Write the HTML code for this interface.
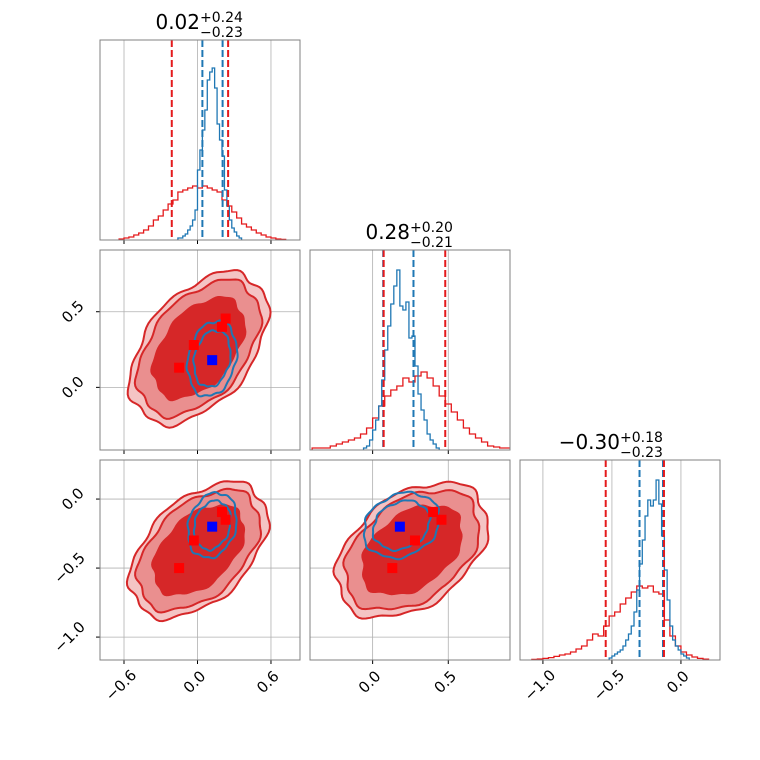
<!DOCTYPE html>
<html><head><meta charset="utf-8"><style>
html,body{margin:0;padding:0;background:#fff}
svg{display:block;font-family:"DejaVu Sans","Liberation Sans",sans-serif}
</style></head><body>
<svg id="c" width="760" height="760" viewBox="0 0 760 760" xmlns="http://www.w3.org/2000/svg"></svg>
<script>
// ---- data ----
const paramRanges = [[-0.796,0.837],[-0.414,0.908],[-1.166,0.283]];
const ticks = [[-0.6,0.0,0.6],[0.0,0.5],[-1.0,-0.5,0.0]];
const tickLabels = [["\u22120.6","0.0","0.6"],["0.0","0.5"],["\u22121.0","\u22120.5","0.0"]];
const titleMain = ["0.02","0.28","\u22120.30"];
const titleUp = ["+0.24","+0.20","+0.18"];
const titleDown = ["\u22120.23","\u22120.21","\u22120.23"];
const blueStart = [-0.16,-0.06,-0.52];
const blueStep = [0.02,0.02,0.02];
const blueHist0 = [0.01,0.01,0.02,0.03,0.05,0.07,0.1,0.15,0.35,0.45,0.55,0.65,0.8,0.84,0.86,0.76,0.58,0.5,0.42,0.25,0.17,0.1,0.06,0.04,0.02,0.01];
const blueHist1 = [0.01,0.02,0.05,0.1,0.15,0.22,0.35,0.5,0.62,0.73,0.82,0.9,0.72,0.7,0.74,0.56,0.57,0.42,0.28,0.2,0.15,0.08,0.05,0.03,0.01];
const blueHist2 = [0.01,0.02,0.03,0.04,0.05,0.07,0.1,0.13,0.17,0.24,0.35,0.48,0.6,0.72,0.8,0.77,0.8,0.9,0.78,0.62,0.45,0.3,0.17,0.1,0.07,0.05,0.03,0.02,0.01];
const redStart = [-0.64,-0.40,-1.08];
const redStep = [0.04,0.04,0.04];
const redHist0 = [0.005,0.01,0.015,0.025,0.035,0.05,0.07,0.1,0.12,0.15,0.18,0.2,0.24,0.25,0.26,0.27,0.26,0.27,0.26,0.25,0.24,0.2,0.17,0.14,0.11,0.08,0.065,0.05,0.035,0.025,0.015,0.01,0.005,0.003];
const redHist1 = [0.01,0.01,0.01,0.02,0.03,0.04,0.05,0.06,0.08,0.11,0.16,0.22,0.27,0.3,0.32,0.36,0.34,0.37,0.39,0.36,0.32,0.27,0.23,0.19,0.15,0.11,0.08,0.06,0.04,0.02,0.015,0.01,0.01];
const redHist2 = [0.003,0.005,0.008,0.012,0.018,0.025,0.03,0.04,0.055,0.07,0.1,0.13,0.12,0.17,0.22,0.24,0.28,0.31,0.34,0.37,0.36,0.37,0.34,0.33,0.2,0.12,0.07,0.04,0.025,0.015,0.008,0.004];
const redQuant = [[-0.21,0.25],[0.073,0.48],[-0.545,-0.123]];
const blueQuant = [[0.04,0.205],[0.07,0.27],[-0.30,-0.13]];
const redMean = [0.01,0.26,-0.37];
const redSigma = [0.28,0.25,0.245];
const redRho = [[1,0.45,0.45],[0.45,1,0.4],[0.45,0.4,1]];
const blueMean = [0.12,0.19,-0.19];
const blueSigma = [0.1,0.125,0.118];
const blueRho = [[1,0.2,0.2],[0.2,1,0.2],[0.2,0.2,1]];
const redLevels = [2.0,1.78,1.35];
const blueLevels = [2.0,1.5];
const redPts0 = [-0.15,-0.03,0.20,0.23];
const redPts1 = [0.13,0.28,0.40,0.455];
const redPts2 = [-0.5,-0.30,-0.094,-0.15];
const bluePt = [0.12,0.18,-0.2];

const NS="http://www.w3.org/2000/svg";
const svg=document.getElementById('c');
const P0=[100,310,520], PT=[40,250,460], S=200;
function mk(tag,attrs,parent){const e=document.createElementNS(NS,tag);for(const k in attrs)e.setAttribute(k,attrs[k]);(parent||svg).appendChild(e);return e;}
function xs(p,col){const r=paramRanges[p];return v=>P0[col]+(v-r[0])/(r[1]-r[0])*S;}
function ys(p,row){const r=paramRanges[p];return v=>PT[row]+S-(v-r[0])/(r[1]-r[0])*S;}
const blueH=[blueHist0,blueHist1,blueHist2], redH=[redHist0,redHist1,redHist2];
const redP=[redPts0,redPts1,redPts2];

for(let row=0;row<3;row++)for(let col=0;col<=row;col++){
  const g=mk('g',{});
  
  
  const cid='clip'+row+col;
  const cp=mk('clipPath',{id:cid},g);mk('rect',{x:P0[col],y:PT[row],width:S,height:S},cp);
  const X=xs(col,col);
  ticks[col].forEach(t=>{const gl=mk('line',{x1:X(t),x2:X(t),y1:PT[row],y2:PT[row]+S,stroke:'#b0b0b0','stroke-width':0.8},g);
    const tk=mk('line',{x1:X(t),x2:X(t),y1:PT[row]+S,y2:PT[row]+S+4,stroke:'#000','stroke-width':1},g);});
  const inner=mk('g',{'clip-path':'url(#'+cid+')'},g);
  if(row===col){
    const hy=v=>PT[row]+S-v*S;
    function hist(arr,start,step,color,name){
      let d='M'+X(start)+','+hy(0);
      arr.forEach((h,i)=>{d+=' L'+X(start+i*step)+','+hy(h)+' L'+X(start+(i+1)*step)+','+hy(h);});
      d+=' L'+X(start+arr.length*step)+','+hy(0);
      const p=mk('path',{d:d,fill:'none',stroke:color,'stroke-width':1.3},inner);
      
    }
    hist(redH[col],redStart[col],redStep[col],'#e41a1c','red-histogram');
    hist(blueH[col],blueStart[col],blueStep[col],'#1f77b4','blue-histogram');
    blueQuant[col].forEach(q=>{const l=mk('line',{x1:X(q),x2:X(q),y1:PT[row],y2:PT[row]+S,stroke:'#1f77b4','stroke-width':2,'stroke-dasharray':'7,3'},inner);});
    redQuant[col].forEach(q=>{const l=mk('line',{x1:X(q),x2:X(q),y1:PT[row],y2:PT[row]+S,stroke:'#e41a1c','stroke-width':2,'stroke-dasharray':'7,3'},inner);});
    const cx=P0[col]+S/2;
    const t=mk('text',{x:cx,y:PT[row]-11,'font-size':20,'text-anchor':'end',fill:'#000'},g);t.textContent=titleMain[col];
    
    const tu=mk('text',{x:cx,y:PT[row]-18,'font-size':14,fill:'#000'},g);tu.textContent=titleUp[col];
    
    const td=mk('text',{x:cx,y:PT[row]-3,'font-size':14,fill:'#000'},g);td.textContent=titleDown[col];
    
  } else {
    const Y=ys(row,row);
    ticks[row].forEach(t=>{const gl=mk('line',{x1:P0[col],x2:P0[col]+S,y1:Y(t),y2:Y(t),stroke:'#b0b0b0','stroke-width':0.8},inner);
      if(col===0){const tk=mk('line',{x1:P0[col]-4,x2:P0[col],y1:Y(t),y2:Y(t),stroke:'#000','stroke-width':1},g);}});
    function ell(mean,sig,rho,r,seed){
      const a=col,b=row,rh=rho[a][b],sq=Math.sqrt(1-rh*rh);let d='';
      for(let i=0;i<=120;i++){const t=i/120*2*Math.PI;
        const w=1+0.035*Math.sin(6*t+seed)+0.02*Math.sin(13*t+2*seed);
        const u1=Math.cos(t)*r*w,u2=Math.sin(t)*r*w;
        const vx=mean[a]+sig[a]*u1, vy=mean[b]+sig[b]*(rh*u1+sq*u2);
        d+=(i?' L':'M')+X(vx).toFixed(1)+','+Y(vy).toFixed(1);}
      return d+'Z';
    }
    const fills=['#f4c4c4','#ea8f8f','#d62728'];
    redLevels.forEach((r,i)=>{const p=mk('path',{d:ell(redMean,redSigma,redRho,r,row+col+i*0.7),fill:fills[i],stroke:i<2?'#d62728':'none','stroke-width':2},inner);});
    blueLevels.forEach((r,i)=>{const p=mk('path',{d:ell(blueMean,blueSigma,blueRho,r,row*2+col+i*1.3),fill:'none',stroke:'#1f77b4','stroke-width':2},inner);});
    redP[col].forEach((v,i)=>{const vy=redP[row][i];const m=mk('rect',{x:X(v)-5,y:Y(vy)-5,width:10,height:10,fill:'#ff0000'},inner);});
    const bm=mk('rect',{x:X(bluePt[col])-5,y:Y(bluePt[row])-5,width:10,height:10,fill:'#0000ff'},inner);
    if(col===0){
      ticks[row].forEach((t,i)=>{const s=tickLabels[row][i];const L=s.length*9.5;const w=(L+14)*0.707;
        const cx=88-w/2, cy=Y(t);
        const tx=mk('text',{x:cx,y:cy,'font-size':15,'text-anchor':'middle','dominant-baseline':'central',transform:'rotate(-45 '+cx+' '+cy+')',fill:'#000'},g);tx.textContent=s;
        });
    }
  }
  if(row===2){
    ticks[col].forEach((t,i)=>{const s=tickLabels[col][i];const L=s.length*9.5;const w=(L+14)*0.707;
      const cx=X(t)-3, cy=667+w/2;
      const tx=mk('text',{x:cx,y:cy,'font-size':15,'text-anchor':'middle','dominant-baseline':'central',transform:'rotate(-45 '+cx+' '+cy+')',fill:'#000'},g);tx.textContent=s;
      });
  }
  const fr=mk('rect',{x:P0[col],y:PT[row],width:S,height:S,fill:'none',stroke:'#808080','stroke-width':1},g);
  
}
</script>
</body></html>
